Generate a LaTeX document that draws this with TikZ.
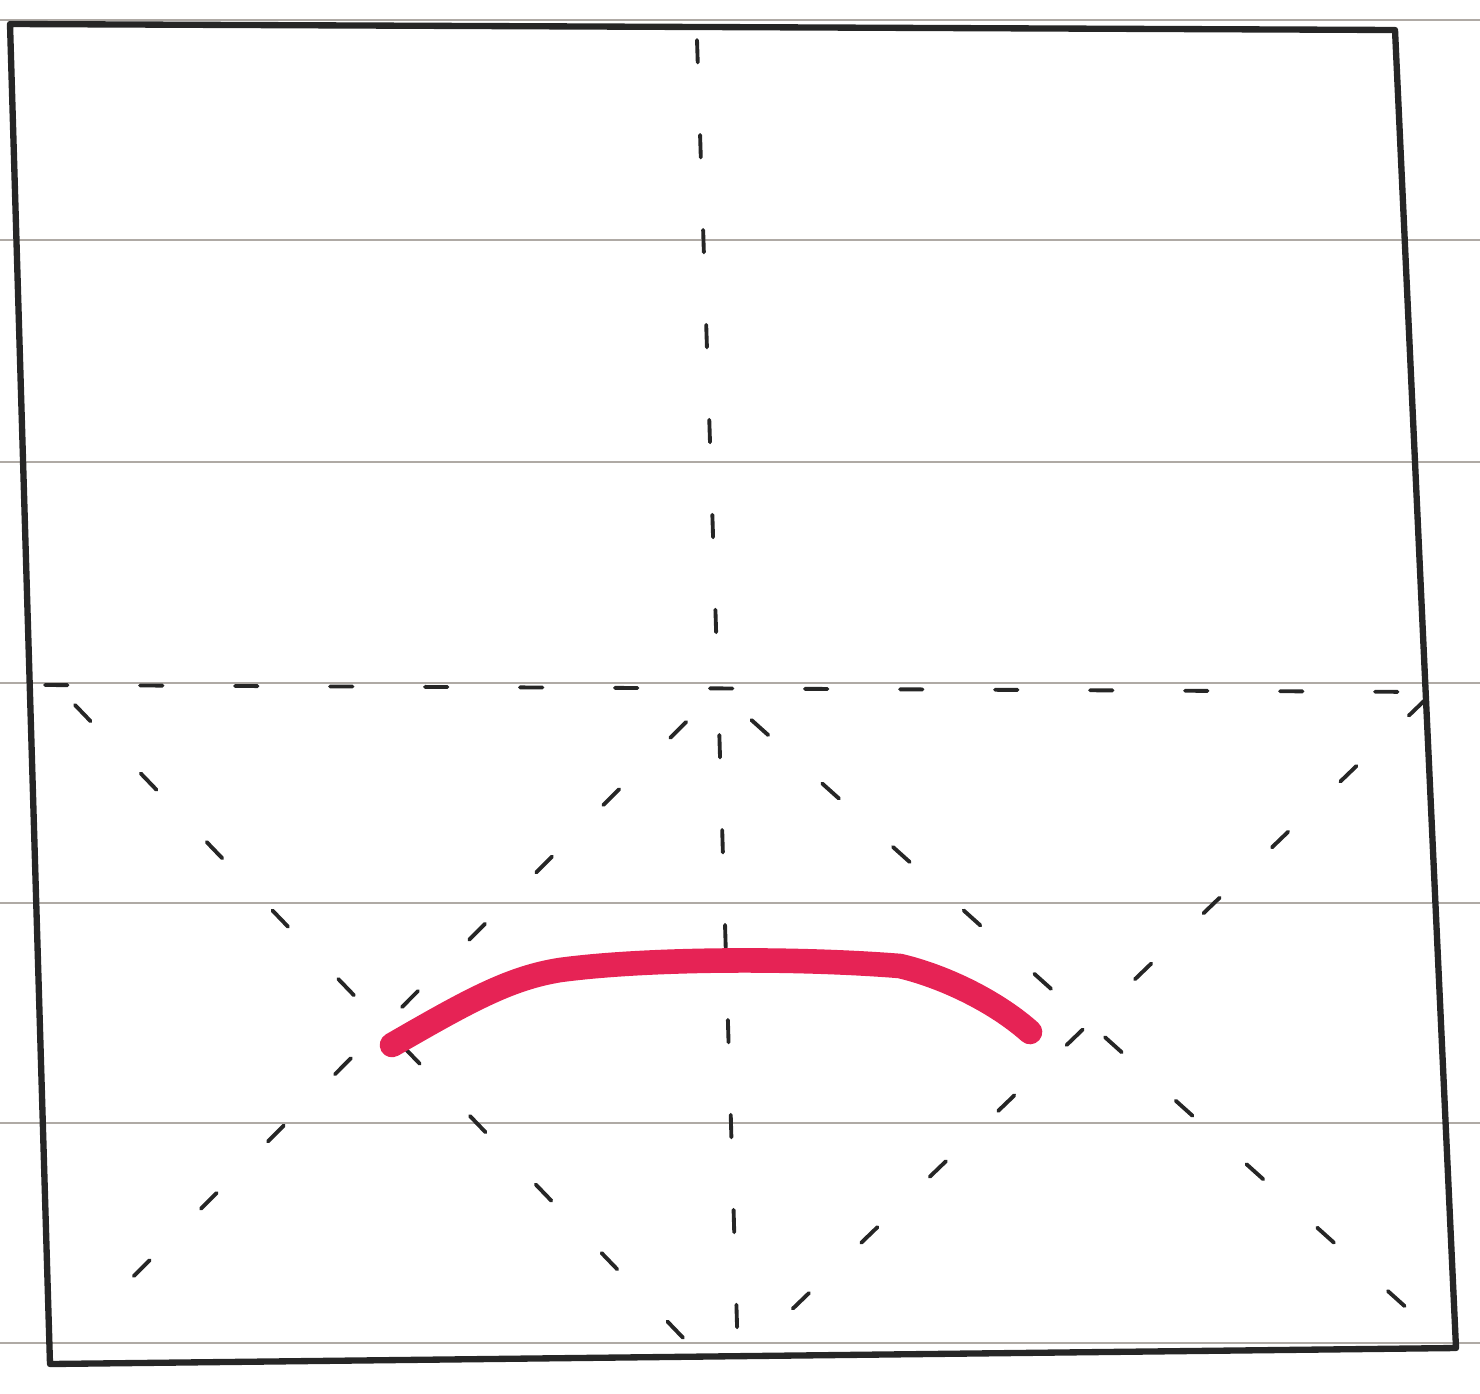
\documentclass[tikz,border=0pt]{standalone}
\usetikzlibrary{calc}
\definecolor{ruleline}{RGB}{175,170,165}
\definecolor{marker}{RGB}{230,35,85}

\begin{document}
\begin{tikzpicture}[x=0.2mm,y=-0.2mm,
    paper/.style={ruleline,line width=1pt},
    outline/.style={black!85,line width=3.6pt,line join=round},
    fold/.style={black!85,line width=2.2pt,line cap=round,dash pattern=on 0.45cm off 1.45cm},
    foldout/.style={fold,dash phase=1cm},
    crease/.style={marker,line width=14pt,line cap=round}]
  \useasboundingbox (0,0) rectangle (1480,1393);
  % ruled notebook lines
  \foreach \y in {20,240,462,683,903,1123,1343}
    \draw[paper] (0,\y) -- (1480,\y);
  % corners of the sheet
  \coordinate (tl) at (10,24);
  \coordinate (tr) at (1395,30);
  \coordinate (br) at (1456,1348);
  \coordinate (bl) at (50,1364);
  \draw[outline] (tl) -- (tr) -- (br) -- (bl) -- cycle;
  % fold lines
  \coordinate (topmid) at (697,40);
  \coordinate (centre) at (718,690);
  \coordinate (botmid) at (738,1358);
  \coordinate (midl) at (45,685);
  \coordinate (midr) at (1432,692);
  \draw[fold] (topmid) -- (centre);
  \draw[foldout] (centre) -- (botmid);
  \draw[fold] (midl) -- (midr);
  \draw[fold] (75,705) -- (690,1345);
  \draw[foldout] (centre) -- (95,1315);
  \draw[foldout] (centre) -- (1448,1345);
  \draw[fold] (1425,700) -- (755,1345);
  % red crease
  \draw[crease] (392,1045) .. controls (470,1000) and (510,978) .. (560,970)
    .. controls (650,958) and (800,958) .. (900,966)
    .. controls (950,978) and (1000,1005) .. (1030,1032);
\end{tikzpicture}
\end{document}
